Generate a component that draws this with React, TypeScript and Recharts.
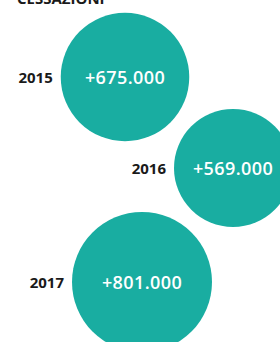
import React from "react";
import { ScatterChart, Scatter, XAxis, YAxis, ZAxis } from "recharts";

const title = "CESSAZIONI";
const years = ["2015", "2016", "2017"];
const values = [675000, 569000, 801000];

// bubble layout (chart units = pixels of the 280x342 frame)
const layoutX = [125, 233, 142];
const layoutY = [77, 168, 282];

const TEAL = "#19ada1";
const MAX_R = 70;

const fmt = (v: number) =>
  "+" + String(v).replace(/\B(?=(\d{3})+(?!\d))/g, ".");

const data = years.map((year, i) => ({
  year,
  value: values[i],
  x: layoutX[i],
  y: layoutY[i],
}));

function Bubble(props: any) {
  const { cx, cy, size, payload } = props;
  const r = Math.sqrt(size / Math.PI);
  return (
    <g>
      <circle cx={cx} cy={cy} r={r} fill={TEAL} />
      <text
        x={cx}
        y={cy}
        textAnchor="middle"
        dominantBaseline="central"
        fill="#ffffff"
        fontSize={18}
        fontWeight={600}
        letterSpacing={0.4}
        fontFamily="'Open Sans', sans-serif"
      >
        {fmt(payload.value)}
      </text>
      <text
        x={cx - r - 8}
        y={cy}
        textAnchor="end"
        dominantBaseline="central"
        fill="#1a1a1a"
        fontSize={15}
        fontWeight={700}
        fontFamily="'Open Sans', sans-serif"
      >
        {payload.year}
      </text>
    </g>
  );
}

export default function App() {
  return (
    <div style={{ position: "absolute", left: 0, top: 0, background: "#fff" }}>
      <ScatterChart
        width={280}
        height={342}
        margin={{ top: 0, right: 0, bottom: 0, left: 0 }}
      >
        <XAxis type="number" dataKey="x" domain={[0, 280]} hide />
        <YAxis type="number" dataKey="y" domain={[0, 342]} reversed hide />
        <ZAxis
          type="number"
          dataKey="value"
          domain={[0, 801000]}
          range={[0, Math.PI * MAX_R * MAX_R]}
        />
        <text
          x={17}
          y={4}
          fill="#1a1a1a"
          fontSize={15}
          fontWeight={700}
          fontFamily="'Open Sans', sans-serif"
        >
          {title}
        </text>
        <Scatter data={data} shape={Bubble} isAnimationActive={false} />
      </ScatterChart>
    </div>
  );
}
